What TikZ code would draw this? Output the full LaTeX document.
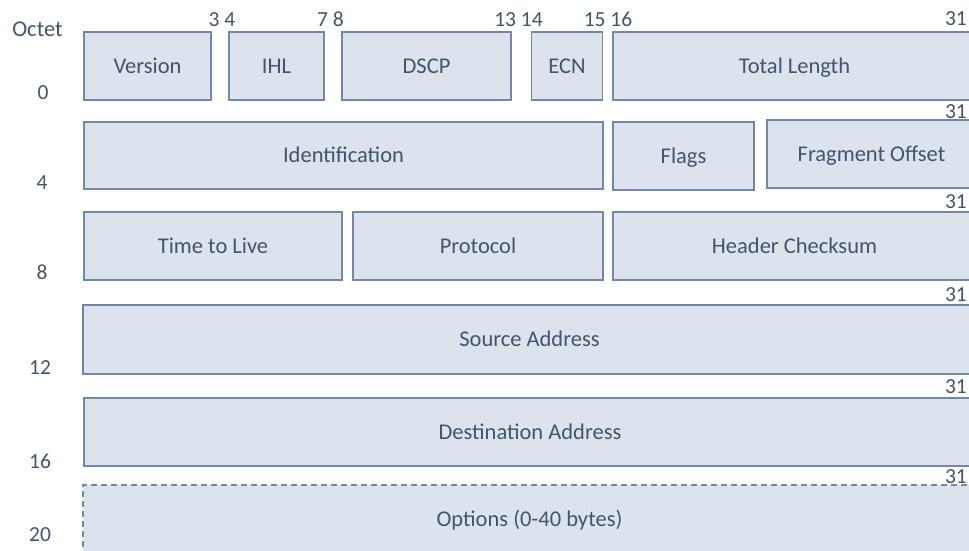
\documentclass[tikz,border=0pt]{standalone}
\usepackage{fontspec}
\setmainfont{Carlito}
\definecolor{boxfill}{HTML}{DCE3EC}
\definecolor{boxline}{HTML}{7388A6}
\definecolor{ink}{HTML}{44546A}
\begin{document}
\begin{tikzpicture}[x=1pt,y=-1pt,
  field/.style={draw=boxline, fill=boxfill, line width=1.5pt, rectangle,
    inner sep=0pt, text=ink, font=\fontsize{22.5}{26}\selectfont,
    text height=14.5pt, text depth=0pt},
  optfield/.style={field, dash pattern=on 6pt off 4pt},
  bitnum/.style={inner sep=0pt, text=ink, font=\fontsize{21.5}{24}\selectfont,
    text height=13.6pt, text depth=0pt},
  octnum/.style={bitnum, anchor=center},
  endnum/.style={bitnum, anchor=east}]
\useasboundingbox (0,0) rectangle (969,550);
\clip (0,0) rectangle (969,550);

% column heading and byte offsets
\node[inner sep=0pt, text=ink, font=\fontsize{22.5}{26}\selectfont,
  text height=14.5pt, text depth=0pt] (octet) at (37.5,29) {Octet};
\node[octnum] (o0)  at (43,93)  {0};
\node[octnum] (o4)  at (42,183) {4};
\node[octnum] (o8)  at (42,273) {8};
\node[octnum] (o12) at (40,368) {12};
\node[octnum] (o16) at (40,462) {16};
\node[octnum] (o20) at (40,535) {20};

% bit positions above the first word
\node[bitnum] (b34)   at (222,20)   {3 4};
\node[bitnum] (b78)   at (330.5,20) {7 8};
\node[bitnum] (b1314) at (518.5,20) {13 14};
\node[bitnum] (b1516) at (608,20)   {15 16};
\node[endnum] (e0)  at (967,19)  {31};
\node[endnum] (e4)  at (967,112) {31};
\node[endnum] (e8)  at (967,202) {31};
\node[endnum] (e12) at (967,295) {31};
\node[endnum] (e16) at (967,387) {31};
\node[endnum] (e20) at (967,477) {31};

% word 0
\node[field, minimum width=127pt, minimum height=68pt] (version) at (147.5,66) {Version};
\node[field, minimum width=95pt,  minimum height=68pt] (ihl)     at (276.5,66) {IHL};
\node[field, minimum width=169pt, minimum height=68pt] (dscp)    at (426.5,66) {DSCP};
\node[field, minimum width=71pt,  minimum height=68pt] (ecn)     at (567,66)   {ECN};
\node[field, minimum width=363pt, minimum height=68pt] (totlen)  at (794.5,66) {Total Length};

% word 1
\node[field, minimum width=519pt, minimum height=67pt] (ident) at (343.5,155.5) {Identification};
\node[field, minimum width=141pt, minimum height=68pt] (flags) at (683.5,156)   {Flags};
\node[field, minimum width=209pt, minimum height=68pt] (frag)  at (871.5,154)   {Fragment Offset};

% word 2
\node[field, minimum width=258pt, minimum height=68pt] (ttl)   at (213,246)   {Time to Live};
\node[field, minimum width=250pt, minimum height=68pt] (proto) at (478,246)   {Protocol};
\node[field, minimum width=363pt, minimum height=68pt] (csum)  at (794.5,246) {Header Checksum};

% words 3 and 4
\node[field, minimum width=893pt, minimum height=69pt] (src) at (529.5,339.5) {Source Address};
\node[field, minimum width=892pt, minimum height=68pt] (dst) at (530,432)     {Destination Address};

% options
\node[optfield, minimum width=893pt, minimum height=68pt] (opts) at (529.5,519) {Options (0-40 bytes)};
\end{tikzpicture}
\end{document}
